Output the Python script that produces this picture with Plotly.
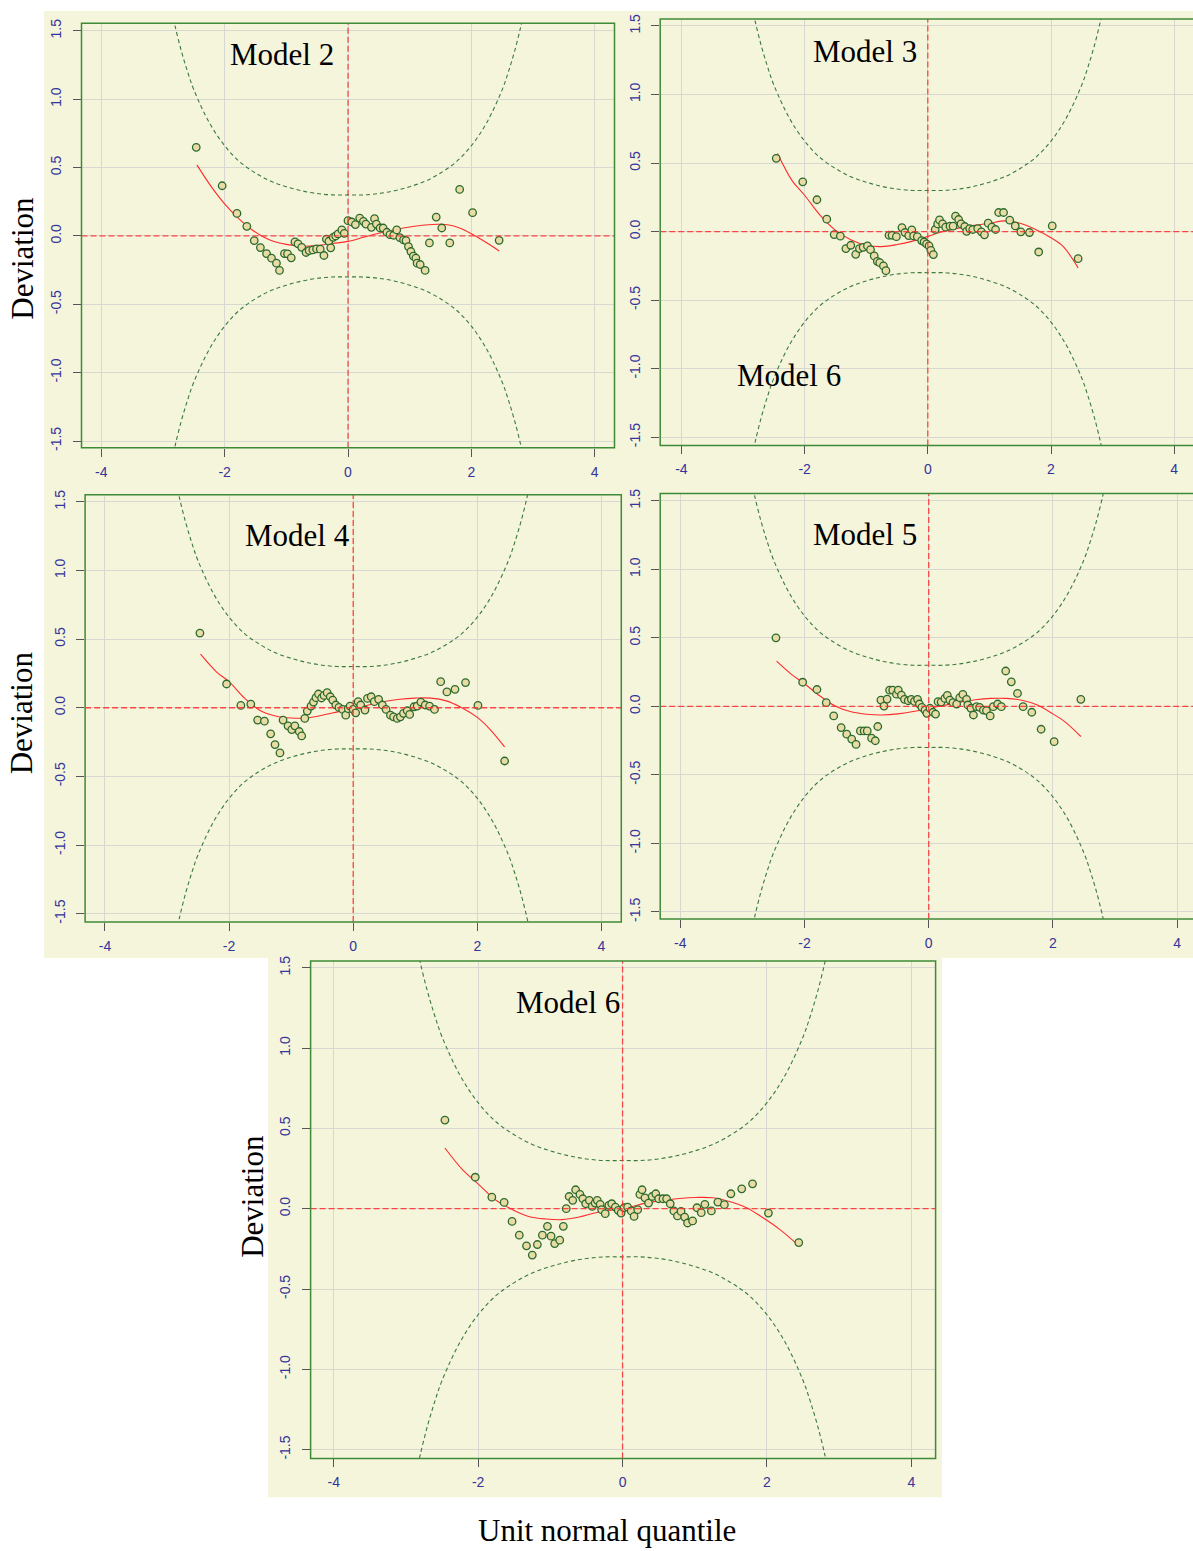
import plotly.graph_objects as go

# ---------------------------------------------------------------------------
# Worm plots (detrended normal Q-Q) for five fitted models
# ---------------------------------------------------------------------------

# 95% pointwise band around zero deviation
band_z = [-2.85, -2.8, -2.7, -2.6, -2.5, -2.25, -2.0, -1.75, -1.5, -1.25, -1.0, -0.75,
          -0.5, -0.25, 0.0, 0.25, 0.5, 0.75, 1.0, 1.25, 1.5, 1.75, 2.0, 2.25, 2.5,
          2.6, 2.7, 2.8, 2.85]
band_upper = [1.64, 1.53, 1.35, 1.20, 1.07, 0.83, 0.66, 0.54, 0.46, 0.40, 0.36, 0.33,
              0.31, 0.30, 0.30, 0.30, 0.31, 0.33, 0.36, 0.40, 0.46, 0.54, 0.66, 0.83,
              1.07, 1.20, 1.35, 1.53, 1.64]
band_lower = [-1.64, -1.53, -1.35, -1.20, -1.07, -0.83, -0.66, -0.54, -0.46, -0.40, -0.36,
              -0.33, -0.31, -0.30, -0.30, -0.30, -0.31, -0.33, -0.36, -0.40, -0.46, -0.54,
              -0.66, -0.83, -1.07, -1.20, -1.35, -1.53, -1.64]

x_ticks = [-4, -2, 0, 2, 4]
x_tick_text = ["-4", "-2", "0", "2", "4"]
y_ticks = [-1.5, -1.0, -0.5, 0.0, 0.5, 1.0, 1.5]
y_tick_text = ["-1.5", "-1.0", "-0.5", "0.0", "0.5", "1.0", "1.5"]

model_names = ["Model 2", "Model 3", "Model 4", "Model 5", "Model 6"]

# --- Model 2 -----------------------------------------------------------------
m2_x = [-2.46, -2.04, -1.80, -1.64, -1.52, -1.42, -1.32, -1.24, -1.16, -1.11, -1.03, -0.98,
        -0.92, -0.86, -0.81, -0.75, -0.68, -0.63, -0.57, -0.51, -0.45, -0.39, -0.35, -0.31,
        -0.28, -0.24, -0.20, -0.16, -0.10, -0.06, 0.00, 0.06, 0.12, 0.19, 0.25, 0.29, 0.38,
        0.43, 0.46, 0.52, 0.57, 0.63, 0.68, 0.74, 0.79, 0.84, 0.90, 0.94, 0.98, 1.02, 1.06,
        1.10, 1.12, 1.17, 1.25, 1.32, 1.43, 1.52, 1.65, 1.81, 2.02, 2.45]
m2_y = [0.648, 0.367, 0.165, 0.070, -0.034, -0.085, -0.129, -0.163, -0.199, -0.252, -0.129,
        -0.131, -0.160, -0.044, -0.058, -0.083, -0.121, -0.107, -0.102, -0.095, -0.097, -0.143,
        -0.024, -0.039, -0.087, -0.010, 0.000, 0.015, 0.044, 0.019, 0.112, 0.102, 0.083, 0.131,
        0.107, 0.087, 0.063, 0.126, 0.087, 0.058, 0.058, 0.027, 0.010, 0.005, 0.044, -0.012,
        -0.029, -0.034, -0.078, -0.114, -0.148, -0.163, -0.199, -0.209, -0.252, -0.051, 0.138,
        0.058, -0.051, 0.340, 0.170, -0.032]
m2_fit_x = [-2.45, -2.2, -2.0, -1.8, -1.6, -1.4, -1.2, -1.0, -0.75, -0.5, -0.25, 0.0, 0.25,
            0.5, 0.75, 1.0, 1.25, 1.5, 1.7, 1.9, 2.1, 2.3, 2.45]
m2_fit_y = [0.52, 0.35, 0.235, 0.14, 0.06, 0.00, -0.04, -0.062, -0.075, -0.07, -0.055, -0.04,
            -0.01, 0.02, 0.045, 0.065, 0.08, 0.085, 0.075, 0.04, -0.01, -0.065, -0.11]

# --- Model 3 -----------------------------------------------------------------
m3_x = [-2.46, -2.03, -1.80, -1.64, -1.52, -1.42, -1.33, -1.25, -1.17, -1.11, -1.05, -0.98,
        -0.93, -0.87, -0.82, -0.78, -0.72, -0.68, -0.63, -0.58, -0.51, -0.42, -0.37, -0.31,
        -0.26, -0.23, -0.17, -0.10, -0.06, -0.02, 0.02, 0.05, 0.09, 0.12, 0.16, 0.19, 0.24,
        0.29, 0.36, 0.41, 0.45, 0.50, 0.54, 0.60, 0.63, 0.68, 0.73, 0.81, 0.87, 0.92, 0.98,
        1.04, 1.10, 1.15, 1.23, 1.33, 1.42, 1.51, 1.65, 1.80, 2.02, 2.44]
m3_y = [0.534, 0.363, 0.232, 0.090, -0.022, -0.034, -0.124, -0.100, -0.166, -0.124, -0.115,
        -0.105, -0.132, -0.178, -0.217, -0.227, -0.251, -0.285, -0.027, -0.027, -0.037, 0.029,
        -0.007, -0.029, 0.012, -0.032, -0.037, -0.066, -0.076, -0.090, -0.105, -0.137, -0.168,
        0.015, 0.056, 0.085, 0.056, 0.032, 0.039, 0.039, 0.112, 0.088, 0.056, 0.037, 0.002,
        0.022, 0.015, 0.022, -0.002, -0.024, 0.061, 0.032, 0.015, 0.139, 0.139, 0.083, 0.041,
        -0.002, -0.007, -0.149, 0.041, -0.198]
m3_fit_x = [-2.44, -2.2, -2.0, -1.75, -1.5, -1.25, -1.0, -0.75, -0.5, -0.25, 0.0, 0.25, 0.5,
            0.75, 1.0, 1.25, 1.5, 1.75, 2.0, 2.2, 2.44]
m3_fit_y = [0.57, 0.37, 0.265, 0.12, 0.01, -0.06, -0.10, -0.11, -0.095, -0.07, -0.035, 0.0,
            0.025, 0.045, 0.06, 0.078, 0.06, 0.015, -0.045, -0.11, -0.265]

# --- Model 4 -----------------------------------------------------------------
m4_x = [-2.47, -2.04, -1.81, -1.65, -1.54, -1.43, -1.33, -1.26, -1.18, -1.13, -1.05, -0.99,
        -0.94, -0.87, -0.83, -0.78, -0.74, -0.68, -0.64, -0.60, -0.56, -0.51, -0.47, -0.42,
        -0.37, -0.33, -0.28, -0.23, -0.17, -0.12, -0.08, -0.05, 0.00, 0.04, 0.08, 0.12, 0.19,
        0.23, 0.29, 0.34, 0.41, 0.47, 0.53, 0.60, 0.65, 0.71, 0.76, 0.81, 0.87, 0.91, 0.98,
        1.03, 1.09, 1.16, 1.23, 1.31, 1.41, 1.51, 1.64, 1.81, 2.01, 2.44]
m4_y = [0.544, 0.173, 0.017, 0.027, -0.090, -0.098, -0.190, -0.268, -0.329, -0.090, -0.132,
        -0.159, -0.132, -0.173, -0.205, -0.078, -0.024, 0.012, 0.041, 0.073, 0.100, 0.071,
        0.090, 0.110, 0.080, 0.056, 0.020, 0.002, -0.012, -0.054, -0.007, 0.012, -0.012,
        -0.037, 0.044, 0.020, -0.017, 0.068, 0.080, 0.044, 0.061, 0.020, -0.012, -0.054,
        -0.066, -0.078, -0.066, -0.041, -0.022, -0.049, 0.007, 0.012, 0.041, 0.020, 0.012,
        -0.012, 0.190, 0.115, 0.134, 0.183, 0.017, -0.388]
m4_fit_x = [-2.46, -2.2, -2.0, -1.75, -1.5, -1.25, -1.0, -0.75, -0.5, -0.25, 0.0, 0.25, 0.5,
            0.75, 1.0, 1.25, 1.5, 1.75, 2.0, 2.2, 2.44]
m4_fit_y = [0.39, 0.26, 0.19, 0.07, -0.02, -0.06, -0.075, -0.075, -0.055, -0.03, -0.005,
            0.02, 0.045, 0.062, 0.07, 0.07, 0.05, 0.0, -0.07, -0.155, -0.285]

# --- Model 5 -----------------------------------------------------------------
m5_x = [-2.46, -2.03, -1.80, -1.65, -1.53, -1.41, -1.32, -1.24, -1.17, -1.10, -1.04, -0.99,
        -0.92, -0.86, -0.82, -0.77, -0.72, -0.67, -0.63, -0.58, -0.52, -0.49, -0.44, -0.39,
        -0.33, -0.28, -0.23, -0.18, -0.15, -0.11, -0.06, -0.03, 0.02, 0.07, 0.11, 0.15, 0.20,
        0.26, 0.30, 0.34, 0.39, 0.45, 0.50, 0.55, 0.61, 0.63, 0.68, 0.72, 0.77, 0.82, 0.88,
        0.93, 0.99, 1.04, 1.11, 1.17, 1.24, 1.33, 1.43, 1.52, 1.66, 1.81, 2.02, 2.45]
m5_y = [0.500, 0.176, 0.123, 0.027, -0.070, -0.155, -0.203, -0.239, -0.278, -0.179, -0.179,
        -0.179, -0.232, -0.251, -0.147, 0.046, 0.002, 0.053, 0.118, 0.118, 0.089, 0.118,
        0.082, 0.051, 0.041, 0.051, 0.036, 0.051, 0.017, -0.007, -0.027, -0.051, -0.014,
        -0.043, -0.056, 0.034, 0.031, 0.058, 0.080, 0.046, 0.027, 0.017, 0.063, 0.087, 0.051,
        0.010, -0.014, -0.063, -0.002, -0.007, -0.027, -0.031, -0.070, -0.002, 0.017, -0.002,
        0.258, 0.179, 0.094, -0.002, -0.043, -0.167, -0.258, 0.051]
m5_fit_x = [-2.45, -2.2, -2.0, -1.75, -1.5, -1.25, -1.0, -0.75, -0.5, -0.25, 0.0, 0.25, 0.5,
            0.75, 1.0, 1.25, 1.5, 1.75, 2.0, 2.2, 2.45]
m5_fit_y = [0.33, 0.23, 0.165, 0.075, 0.0, -0.04, -0.058, -0.063, -0.055, -0.038, -0.015,
            0.008, 0.03, 0.048, 0.058, 0.058, 0.045, 0.01, -0.055, -0.115, -0.22]

# --- Model 6 -----------------------------------------------------------------
m6_x = [-2.46, -2.04, -1.81, -1.64, -1.53, -1.43, -1.33, -1.25, -1.18, -1.11, -1.04, -0.99,
        -0.94, -0.87, -0.82, -0.78, -0.74, -0.69, -0.65, -0.59, -0.55, -0.51, -0.46, -0.42,
        -0.38, -0.35, -0.31, -0.29, -0.24, -0.19, -0.15, -0.10, -0.06, -0.02, 0.02, 0.07,
        0.12, 0.16, 0.21, 0.24, 0.27, 0.31, 0.36, 0.41, 0.46, 0.50, 0.56, 0.61, 0.66, 0.71,
        0.76, 0.81, 0.86, 0.90, 0.97, 1.03, 1.09, 1.14, 1.23, 1.32, 1.41, 1.50, 1.65, 1.80,
        2.02, 2.44]
m6_y = [0.552, 0.196, 0.072, 0.039, -0.079, -0.165, -0.231, -0.289, -0.223, -0.165, -0.110,
        -0.171, -0.217, -0.196, -0.110, 0.000, 0.076, 0.052, 0.118, 0.089, 0.062, 0.031, 0.052,
        0.014, 0.035, 0.052, 0.027, -0.006, -0.031, 0.021, 0.031, 0.010, -0.010, -0.027, 0.006,
        0.010, -0.014, -0.048, -0.006, 0.089, 0.118, 0.068, 0.035, 0.076, 0.093, 0.062, 0.062,
        0.062, 0.031, -0.014, -0.045, -0.017, -0.052, -0.089, -0.076, 0.006, -0.025, 0.027,
        -0.014, 0.041, 0.025, 0.093, 0.124, 0.155, -0.027, -0.211]
m6_fit_x = [-2.46, -2.22, -1.99, -1.76, -1.53, -1.30, -1.06, -0.84, -0.60, -0.37, -0.14, 0.09,
            0.32, 0.56, 0.79, 1.02, 1.25, 1.48, 1.71, 1.94, 2.18, 2.44]
m6_fit_y = [0.378, 0.245, 0.15, 0.055, -0.004, -0.048, -0.064, -0.068, -0.052, -0.025, -0.008,
            0.010, 0.035, 0.052, 0.064, 0.070, 0.068, 0.045, 0.008, -0.055, -0.130, -0.230]

points_x = [m2_x, m3_x, m4_x, m5_x, m6_x]
points_y = [m2_y, m3_y, m4_y, m5_y, m6_y]
fits_x = [m2_fit_x, m3_fit_x, m4_fit_x, m5_fit_x, m6_fit_x]
fits_y = [m2_fit_y, m3_fit_y, m4_fit_y, m5_fit_y, m6_fit_y]

# ---------------------------------------------------------------------------
# Page geometry (pixels) and styling
# ---------------------------------------------------------------------------
W, H = 1193, 1551


def fx(p):
    return p / W


def fy(p):
    return 1 - p / H


# plot frame of each panel: left, right, top, bottom
panel_boxes = [
    (81.5, 614.5, 18.3, 445.0),
    (660.2, 1193.0, 14.0, 442.7),
    (85.1, 621.3, 492.3, 921.7),
    (660.2, 1193.0, 491.0, 918.7),
    (310.6, 935.6, 961.0, 1461.0),
]
x_ranges = [(-4.32, 4.32), (-4.344, 4.305), (-4.32, 4.32), (-4.324, 4.256), (-4.32, 4.335)]
y_ranges = [(-1.549, 1.556), (-1.560, 1.551), (-1.560, 1.551), (-1.551, 1.553), (-1.555, 1.542)]
frame_open_right = [False, True, False, True, False]

BEIGE = "#f5f5dc"
FRAME = "#3f8a37"
BAND = "#3b7a3b"
FIT = "#ff2b2b"
REF = "rgba(255,45,45,0.85)"
GRID = "#d8d8d2"
TICKFONT = dict(family="Liberation Sans, Arial, sans-serif", size=14, color="#34349a")
SERIF = "Liberation Serif, Times New Roman, serif"

fig = go.Figure()
shapes = []
layout = {}

# beige backgrounds behind the panel groups
shapes.append(dict(type="rect", xref="paper", yref="paper", layer="below",
                   x0=fx(44), x1=fx(1193), y0=fy(958), y1=fy(6),
                   fillcolor=BEIGE, line=dict(width=0)))
shapes.append(dict(type="rect", xref="paper", yref="paper", layer="below",
                   x0=fx(268), x1=fx(942), y0=fy(1500), y1=fy(952),
                   fillcolor=BEIGE, line=dict(width=0)))

for i in range(5):
    n = "" if i == 0 else str(i + 1)
    xa, ya = "x" + n, "y" + n
    left, right, top, bottom = panel_boxes[i]

    layout["xaxis" + n] = dict(
        domain=[fx(left), fx(right)], range=list(x_ranges[i]), anchor=ya,
        tickvals=x_ticks, ticktext=x_tick_text, tickfont=TICKFONT,
        ticks="outside", ticklen=8, tickcolor="#555555", tickwidth=1,
        ticklabelstandoff=3,
        showgrid=True, gridcolor=GRID, gridwidth=1, zeroline=False, showline=False,
    )
    layout["yaxis" + n] = dict(
        domain=[fy(bottom), fy(top)], range=list(y_ranges[i]), anchor=xa,
        tickvals=y_ticks, ticktext=y_tick_text, tickfont=TICKFONT, tickangle=-90,
        ticks="outside", ticklen=8, tickcolor="#555555", tickwidth=1,
        ticklabelstandoff=6,
        showgrid=True, gridcolor=GRID, gridwidth=1, zeroline=False, showline=False,
    )

    # confidence band
    for band in (band_upper, band_lower):
        fig.add_trace(go.Scatter(
            x=band_z, y=band, mode="lines", xaxis=xa, yaxis=ya,
            line=dict(color=BAND, width=1.1, dash="4px,3px", shape="spline"),
            hoverinfo="skip", showlegend=False))

    # fitted cubic
    fig.add_trace(go.Scatter(
        x=fits_x[i], y=fits_y[i], mode="lines", xaxis=xa, yaxis=ya,
        line=dict(color=FIT, width=1.1, shape="spline"),
        hoverinfo="skip", showlegend=False))

    # detrended quantiles
    fig.add_trace(go.Scatter(
        x=points_x[i], y=points_y[i], mode="markers", xaxis=xa, yaxis=ya,
        marker=dict(symbol="circle", size=7.5, color="#e8dba6",
                    line=dict(color="#2c6a2c", width=1.3)),
        showlegend=False))

    # zero reference lines
    shapes.append(dict(type="line", xref=xa + " domain", yref=ya, layer="above",
                       x0=0, x1=1, y0=0, y1=0,
                       line=dict(color=REF, width=1.3, dash="6px,3px")))
    shapes.append(dict(type="line", xref=xa, yref=ya + " domain", layer="above",
                       x0=0, x1=0, y0=0, y1=1,
                       line=dict(color=REF, width=1.3, dash="6px,3px")))

    # panel frame
    shapes.append(dict(type="rect", xref="paper", yref="paper", layer="above",
                       x0=fx(left), x1=(1.01 if frame_open_right[i] else fx(right)),
                       y0=fy(bottom), y1=fy(top),
                       line=dict(color=FRAME, width=1.5), fillcolor="rgba(0,0,0,0)"))

# lower panel sheet overlapping the bottom of the Model 4 tick labels
shapes.append(dict(type="rect", xref="paper", yref="paper", layer="above",
                   x0=fx(300), x1=fx(640), y0=fy(959.5), y1=fy(951.5),
                   fillcolor=BEIGE, line=dict(width=0)))

# text labels
label_pos = [(282, 50), (865, 47), (297, 533), (865, 532), (568, 1003)]
annotations = []
for name, (px, py) in zip(model_names, label_pos):
    annotations.append(dict(text=name, x=fx(px), y=fy(py), xref="paper", yref="paper",
                            showarrow=False, xanchor="center", yanchor="middle",
                            font=dict(family=SERIF, size=31, color="black")))
annotations.append(dict(text="Model 6", x=fx(789), y=fy(372), xref="paper", yref="paper",
                        showarrow=False, xanchor="center", yanchor="middle",
                        font=dict(family=SERIF, size=31, color="black")))
for (px, py) in [(23, 255), (21, 712), (253, 1198)]:
    annotations.append(dict(text="Deviation", x=fx(px), y=fy(py), xref="paper", yref="paper",
                            showarrow=False, textangle=-90, xanchor="center", yanchor="middle",
                            font=dict(family=SERIF, size=31, color="black")))
annotations.append(dict(text="Unit normal quantile", x=fx(607), y=fy(1533),
                        xref="paper", yref="paper", showarrow=False,
                        xanchor="center", yanchor="middle",
                        font=dict(family=SERIF, size=31, color="black")))

fig.update_layout(
    width=W, height=H, margin=dict(l=0, r=0, t=0, b=0),
    paper_bgcolor="white", plot_bgcolor=BEIGE,
    shapes=shapes, annotations=annotations, showlegend=False,
    **layout,
)

fig.write_html("out.html")
